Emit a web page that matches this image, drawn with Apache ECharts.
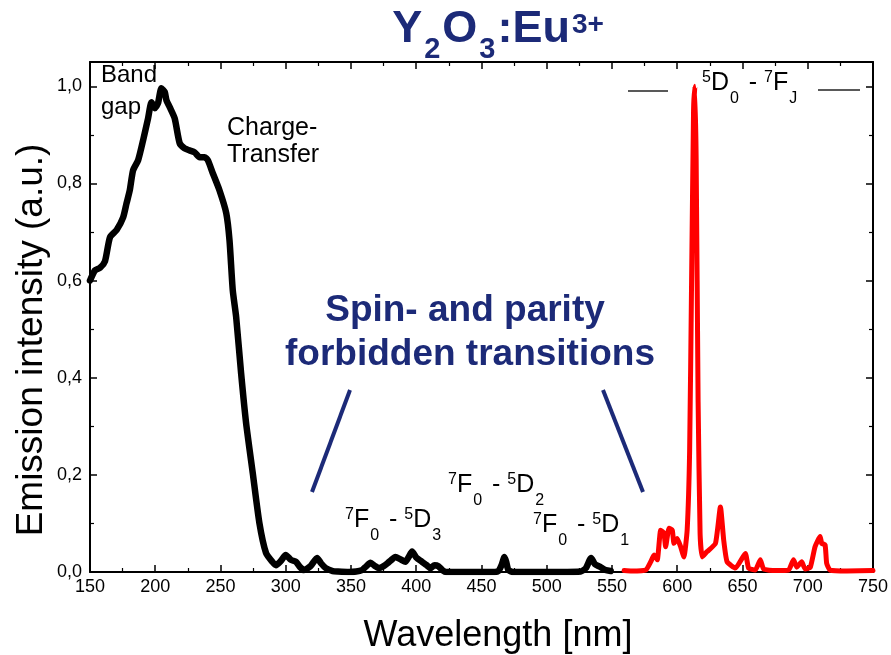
<!DOCTYPE html>
<html><head><meta charset="utf-8">
<script src="https://cdn.jsdelivr.net/npm/echarts@6/dist/echarts.min.js"></script>
<style>html,body{margin:0;padding:0;background:#fff}#c{width:891px;height:655px}</style>
</head><body><div id="c"></div>
<script>
// ---- data ----
const blackWl = [150,153.8,157.6,161.5,165.3,170.4,175.4,178,180.5,183,186.9,190.7,194.5,197.1,199.6,202.1,204.7,207.3,208.6,211.1,214.9,218.7,222.5,226.3,230.2,234,237.8,240.3,244.1,249.2,254.4,256.9,259.4,262,265.8,269.6,274.7,279.8,284.9,289.7,292.5,296,300,304,307.8,311,314,319,324,327,330.7,336,340,348.5,354,358.4,361,365,368,371.4,375,378,381,384,388,391.7,394,396.8,400,404.4,408,410.8,414,417,420,423,440,460,463,465.5,467.6,469,470.6,474,490,510,526,530,534,537,540.6,545,549];
const blackInt = [0.600,0.621,0.626,0.640,0.689,0.704,0.730,0.759,0.786,0.827,0.848,0.889,0.934,0.967,0.955,0.965,0.996,0.988,0.971,0.957,0.934,0.883,0.872,0.868,0.864,0.854,0.854,0.848,0.821,0.786,0.739,0.683,0.580,0.525,0.409,0.307,0.204,0.101,0.039,0.021,0.014,0.022,0.035,0.025,0.021,0.010,0.004,0.012,0.029,0.018,0.008,0.002,0.001,0.000,0.001,0.004,0.010,0.019,0.013,0.008,0.012,0.018,0.025,0.031,0.026,0.021,0.030,0.042,0.030,0.021,0.014,0.008,0.014,0.012,0.004,0.000,0.000,0.000,0.002,0.015,0.031,0.020,0.004,0.000,0.000,0.000,0.001,0.008,0.029,0.016,0.011,0.004,0.002];
const redWl = [559.3,565,575.9,579.7,582.2,584.7,587.3,589.8,591.1,593.7,596.2,597.5,600,602.6,605.1,607.6,609.5,611,612.5,613.5,614.5,616,617.5,619.1,622.9,629.3,633.1,635.6,638.2,644.6,652.2,654.7,659.8,663.7,666.2,675,685.3,689.1,691.6,695.4,698,702,705.6,709.5,710.7,713.3,714.5,717.1,730,750];
const redInt = [0.003,0.002,0.004,0.021,0.035,0.025,0.086,0.080,0.052,0.090,0.086,0.059,0.069,0.052,0.031,0.086,0.25,0.6,0.95,1.0,0.85,0.35,0.08,0.031,0.042,0.059,0.134,0.066,0.021,0.008,0.038,0.008,0.004,0.025,0.006,0.003,0.004,0.025,0.010,0.021,0.006,0.010,0.052,0.073,0.059,0.056,0.018,0.004,0.002,0.003];
const xTicks = [150,200,250,300,350,400,450,500,550,600,650,700,750];
const yTickLabels = ['0,0','0,2','0,4','0,6','0,8','1,0'];

const NAVY = '#1c2a78';
const FONT = 'Liberation Sans, Arial, sans-serif';

const chart = echarts.init(document.getElementById('c'), null, {renderer:'canvas'});

function axisCommon(showLabel) {
  return {
    axisLine: {show:true, onZero:false, lineStyle:{color:'#000', width:2}},
    axisTick: {show:true, inside:true, length:7, lineStyle:{color:'#000', width:1.5}},
    minorTick: {show:true, splitNumber:2, length:4, lineStyle:{color:'#000', width:1.2}},
    splitLine: {show:false},
    minorSplitLine: {show:false},
    axisLabel: {show:showLabel}
  };
}

// transition-label rich styles
const trRich = {
  n:{fontSize:25, fontFamily:FONT, fill:'#000', lineHeight:47},
  p:{fontSize:16, fontFamily:FONT, fill:'#000', verticalAlign:'top', padding:[10,0,0,0]},
  b:{fontSize:16, fontFamily:FONT, fill:'#000', verticalAlign:'bottom', padding:[0,3,0,1]}
};
function trLabel(str, x, top) {
  return {type:'text', x:x, y:top, z:10,
    style:{text:str, rich:trRich, textVerticalAlign:'top', textAlign:'left'}};
}

const option = {
  animation:false,
  backgroundColor:'#fff',
  grid:{left:90, right:14, top:62, bottom:83, containLabel:false},
  xAxis:[
    Object.assign({type:'value', min:150, max:750, interval:50, position:'bottom'}, axisCommon(true), {
      axisLabel:{show:true, fontSize:18, fontFamily:FONT, color:'#000', margin:6,
        formatter:(v)=> xTicks.indexOf(v)>=0 ? String(v) : ''}
    }),
    Object.assign({type:'value', min:150, max:750, interval:50, position:'top'}, axisCommon(false))
  ],
  yAxis:[
    Object.assign({type:'value', min:0, max:1.05, interval:0.2, position:'left'}, axisCommon(true), {
      axisLabel:{show:true, fontSize:18, fontFamily:FONT, color:'#000', margin:8,
        formatter:(v)=>{ const i=Math.round(v/0.2); return Math.abs(v-i*0.2)<1e-6 ? (yTickLabels[i]||'') : ''; }}
    }),
    Object.assign({type:'value', min:0, max:1.05, interval:0.2, position:'right'}, axisCommon(false))
  ],
  series:[
    {type:'line', xAxisIndex:0, yAxisIndex:0, showSymbol:false, smooth:0.2,
     data: blackWl.map((w,i)=>[w, blackInt[i]]),
     lineStyle:{color:'#000', width:6.5, cap:'round', join:'round'}},
    {type:'line', xAxisIndex:0, yAxisIndex:0, showSymbol:false, smooth:0.15,
     data: redWl.map((w,i)=>[w, redInt[i]]),
     lineStyle:{color:'#ff0000', width:5, cap:'round', join:'round'}}
  ],
  graphic:[
    // title
    {type:'text', x:498, y:-4, z:10, style:{
      text:'{n|Y}{b|2}{n|O}{b|3}{n|:Eu}{p|3+}', textAlign:'center', textVerticalAlign:'top',
      rich:{
        n:{fontSize:45, fontWeight:'bold', fontFamily:FONT, fill:NAVY, lineHeight:68},
        b:{fontSize:29, fontWeight:'bold', fontFamily:FONT, fill:NAVY, verticalAlign:'bottom', padding:[0,2,0,2]},
        p:{fontSize:28, fontWeight:'bold', fontFamily:FONT, fill:NAVY, verticalAlign:'top', padding:[15,0,0,2]}
      }}},
    // spin and parity
    {type:'text', x:465, y:329, z:10, style:{text:'Spin- and parity', textAlign:'center', textVerticalAlign:'bottom',
      fontSize:37, fontWeight:'bold', fontFamily:FONT, fill:NAVY}},
    {type:'text', x:470, y:373, z:10, style:{text:'forbidden transitions', textAlign:'center', textVerticalAlign:'bottom',
      fontSize:37, fontWeight:'bold', fontFamily:FONT, fill:NAVY}},
    {type:'line', z:10, shape:{x1:350, y1:390, x2:312, y2:492}, style:{stroke:NAVY, lineWidth:4}},
    {type:'line', z:10, shape:{x1:603, y1:390, x2:643, y2:492}, style:{stroke:NAVY, lineWidth:4}},
    // band gap / charge transfer
    {type:'text', x:101, y:87, z:10, style:{text:'Band', textVerticalAlign:'bottom', fontSize:24, fontFamily:FONT, fill:'#000'}},
    {type:'text', x:101, y:119, z:10, style:{text:'gap', textVerticalAlign:'bottom', fontSize:24, fontFamily:FONT, fill:'#000'}},
    {type:'text', x:227, y:141, z:10, style:{text:'Charge-', textVerticalAlign:'bottom', fontSize:25, fontFamily:FONT, fill:'#000'}},
    {type:'text', x:227, y:168, z:10, style:{text:'Transfer', textVerticalAlign:'bottom', fontSize:25, fontFamily:FONT, fill:'#000'}},
    // transition labels
    trLabel('{p|7}{n|F}{b|0}{n| - }{p|5}{n|D}{b|3}', 345, 497),
    trLabel('{p|7}{n|F}{b|0}{n| - }{p|5}{n|D}{b|2}', 448, 462),
    trLabel('{p|7}{n|F}{b|0}{n| - }{p|5}{n|D}{b|1}', 533, 502),
    trLabel('{p|5}{n|D}{b|0}{n| - }{p|7}{n|F}{b|J}', 702, 60),
    {type:'line', z:10, shape:{x1:628, y1:91, x2:668, y2:91}, style:{stroke:'#222', lineWidth:1.5}},
    {type:'line', z:10, shape:{x1:818, y1:90, x2:860, y2:90}, style:{stroke:'#222', lineWidth:1.5}},
    // axis titles
    {type:'text', x:498, y:654, z:10, style:{text:'Wavelength [nm]', textAlign:'center', textVerticalAlign:'bottom',
      fontSize:36, fontFamily:FONT, fill:'#000'}},
    {type:'text', x:32, y:340, rotation:Math.PI/2, z:10, style:{text:'Emission intensity (a.u.)', textAlign:'center', textVerticalAlign:'middle',
      fontSize:37, fontFamily:FONT, fill:'#000'}}
  ]
};
chart.setOption(option);
</script></body></html>
